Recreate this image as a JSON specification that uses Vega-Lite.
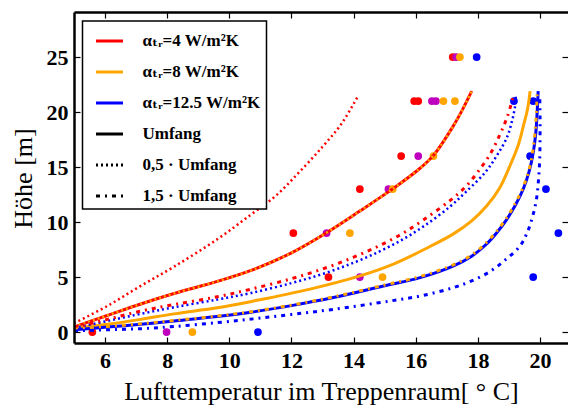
{
  "$schema": "https://vega.github.io/schema/vega-lite/v6.json",
  "width": 494,
  "height": 331,
  "autosize": {"type": "none"},
  "padding": {"left": 74, "top": 12, "right": 0, "bottom": 65},
  "background": "white",
  "config": {
    "view": {"stroke": null},
    "font": "'Liberation Serif', 'Times New Roman', Times, 'DejaVu Serif', serif",
    "legend": {"strokeWidth": 1.5}
  },
  "datasets": {
    "meas": [
      {"g":"r","T":5.59,"h":0},{"g":"m","T":7.98,"h":0},{"g":"o","T":8.81,"h":0},{"g":"b","T":10.92,"h":0},
      {"g":"r","T":13.19,"h":5},{"g":"m","T":14.2,"h":5},{"g":"o","T":14.93,"h":5},{"g":"b","T":19.78,"h":5},
      {"g":"r","T":12.06,"h":9},{"g":"m","T":13.13,"h":9},{"g":"o","T":13.88,"h":9},{"g":"b","T":20.59,"h":9},
      {"g":"r","T":14.2,"h":13},{"g":"m","T":15.12,"h":13},{"g":"o","T":15.26,"h":13},{"g":"b","T":20.19,"h":13},
      {"g":"r","T":15.53,"h":16},{"g":"m","T":16.08,"h":16},{"g":"o","T":16.57,"h":16},{"g":"b","T":19.68,"h":16},
      {"g":"r","T":15.95,"h":21},{"g":"r","T":16.08,"h":21},{"g":"m","T":16.52,"h":21},{"g":"m","T":16.65,"h":21},{"g":"o","T":16.89,"h":21},{"g":"o","T":17.26,"h":21},{"g":"b","T":19.16,"h":21},{"g":"b","T":19.78,"h":21},
      {"g":"r","T":17.19,"h":25},{"g":"m","T":17.3,"h":25},{"g":"o","T":17.42,"h":25},{"g":"b","T":17.96,"h":25}
    ],
    "curves": [
      {"s":"r05","a":"4","f":"0.5","T":5.0,"h":0.8},{"s":"r05","a":"4","f":"0.5","T":6.07,"h":2.36},{"s":"r05","a":"4","f":"0.5","T":7.15,"h":4.2},{"s":"r05","a":"4","f":"0.5","T":8.22,"h":5.94},{"s":"r05","a":"4","f":"0.5","T":9.61,"h":8.43},{"s":"r05","a":"4","f":"0.5","T":10.66,"h":10.6},{"s":"r05","a":"4","f":"0.5","T":11.5,"h":12.4},{"s":"r05","a":"4","f":"0.5","T":12.27,"h":14.6},{"s":"r05","a":"4","f":"0.5","T":13.0,"h":16.85},{"s":"r05","a":"4","f":"0.5","T":13.6,"h":18.9},{"s":"r05","a":"4","f":"0.5","T":14.15,"h":21.5},

      {"s":"r1","a":"4","f":"1","T":5.0,"h":0.45},{"s":"r1","a":"4","f":"1","T":6.07,"h":1.5},{"s":"r1","a":"4","f":"1","T":7.15,"h":2.55},{"s":"r1","a":"4","f":"1","T":8.22,"h":3.5},{"s":"r1","a":"4","f":"1","T":9.61,"h":4.6},{"s":"r1","a":"4","f":"1","T":10.7,"h":5.6},{"s":"r1","a":"4","f":"1","T":12.0,"h":7.2},{"s":"r1","a":"4","f":"1","T":13.13,"h":9.03},{"s":"r1","a":"4","f":"1","T":14.2,"h":11.0},{"s":"r1","a":"4","f":"1","T":15.28,"h":13.06},{"s":"r1","a":"4","f":"1","T":16.1,"h":14.8},{"s":"r1","a":"4","f":"1","T":16.57,"h":16.06},{"s":"r1","a":"4","f":"1","T":17.2,"h":18.7},{"s":"r1","a":"4","f":"1","T":17.5,"h":20.2},{"s":"r1","a":"4","f":"1","T":17.8,"h":21.9},

      {"s":"o05","a":"8","f":"0.5","T":5.0,"h":0.45},{"s":"o05","a":"8","f":"0.5","T":6.07,"h":1.5},{"s":"o05","a":"8","f":"0.5","T":7.15,"h":2.55},{"s":"o05","a":"8","f":"0.5","T":8.22,"h":3.5},{"s":"o05","a":"8","f":"0.5","T":9.61,"h":4.6},{"s":"o05","a":"8","f":"0.5","T":10.7,"h":5.6},{"s":"o05","a":"8","f":"0.5","T":12.0,"h":7.2},{"s":"o05","a":"8","f":"0.5","T":13.13,"h":9.03},{"s":"o05","a":"8","f":"0.5","T":14.2,"h":11.0},{"s":"o05","a":"8","f":"0.5","T":15.28,"h":13.06},{"s":"o05","a":"8","f":"0.5","T":16.1,"h":14.8},{"s":"o05","a":"8","f":"0.5","T":16.57,"h":16.06},{"s":"o05","a":"8","f":"0.5","T":17.2,"h":18.7},{"s":"o05","a":"8","f":"0.5","T":17.5,"h":20.2},{"s":"o05","a":"8","f":"0.5","T":17.8,"h":21.9},

      {"s":"r15","a":"4","f":"1.5","T":5.0,"h":0.4},{"s":"r15","a":"4","f":"1.5","T":6.07,"h":1.15},{"s":"r15","a":"4","f":"1.5","T":7.15,"h":1.9},{"s":"r15","a":"4","f":"1.5","T":8.22,"h":2.5},{"s":"r15","a":"4","f":"1.5","T":9.61,"h":3.2},{"s":"r15","a":"4","f":"1.5","T":10.7,"h":3.9},{"s":"r15","a":"4","f":"1.5","T":12.0,"h":4.85},{"s":"r15","a":"4","f":"1.5","T":13.03,"h":5.76},{"s":"r15","a":"4","f":"1.5","T":14.0,"h":6.8},{"s":"r15","a":"4","f":"1.5","T":14.85,"h":7.88},{"s":"r15","a":"4","f":"1.5","T":15.6,"h":9.0},{"s":"r15","a":"4","f":"1.5","T":16.3,"h":10.3},{"s":"r15","a":"4","f":"1.5","T":17.1,"h":11.95},{"s":"r15","a":"4","f":"1.5","T":17.6,"h":13.2},{"s":"r15","a":"4","f":"1.5","T":18.01,"h":14.6},{"s":"r15","a":"4","f":"1.5","T":18.4,"h":16.2},{"s":"r15","a":"4","f":"1.5","T":18.71,"h":17.97},{"s":"r15","a":"4","f":"1.5","T":18.95,"h":19.6},{"s":"r15","a":"4","f":"1.5","T":19.14,"h":21.45},

      {"s":"b05","a":"12.5","f":"0.5","T":5.0,"h":0.35},{"s":"b05","a":"12.5","f":"0.5","T":6.07,"h":1.0},{"s":"b05","a":"12.5","f":"0.5","T":7.15,"h":1.65},{"s":"b05","a":"12.5","f":"0.5","T":8.22,"h":2.25},{"s":"b05","a":"12.5","f":"0.5","T":9.61,"h":2.95},{"s":"b05","a":"12.5","f":"0.5","T":10.7,"h":3.55},{"s":"b05","a":"12.5","f":"0.5","T":12.0,"h":4.45},{"s":"b05","a":"12.5","f":"0.5","T":13.03,"h":5.3},{"s":"b05","a":"12.5","f":"0.5","T":14.0,"h":6.3},{"s":"b05","a":"12.5","f":"0.5","T":14.85,"h":7.35},{"s":"b05","a":"12.5","f":"0.5","T":15.6,"h":8.45},{"s":"b05","a":"12.5","f":"0.5","T":16.3,"h":9.7},{"s":"b05","a":"12.5","f":"0.5","T":17.1,"h":11.4},{"s":"b05","a":"12.5","f":"0.5","T":17.6,"h":12.7},{"s":"b05","a":"12.5","f":"0.5","T":18.23,"h":14.5},{"s":"b05","a":"12.5","f":"0.5","T":18.6,"h":16.0},{"s":"b05","a":"12.5","f":"0.5","T":18.93,"h":17.67},{"s":"b05","a":"12.5","f":"0.5","T":19.1,"h":19.2},{"s":"b05","a":"12.5","f":"0.5","T":19.2,"h":20.6},{"s":"b05","a":"12.5","f":"0.5","T":19.22,"h":21.4},

      {"s":"o1","a":"8","f":"1","T":5.0,"h":0.35},{"s":"o1","a":"8","f":"1","T":6.07,"h":0.7},{"s":"o1","a":"8","f":"1","T":7.15,"h":1.15},{"s":"o1","a":"8","f":"1","T":8.22,"h":1.65},{"s":"o1","a":"8","f":"1","T":9.61,"h":2.2},{"s":"o1","a":"8","f":"1","T":10.75,"h":2.8},{"s":"o1","a":"8","f":"1","T":12.6,"h":3.9},{"s":"o1","a":"8","f":"1","T":14.2,"h":5.1},{"s":"o1","a":"8","f":"1","T":15.3,"h":6.2},{"s":"o1","a":"8","f":"1","T":16.3,"h":7.55},{"s":"o1","a":"8","f":"1","T":17.2,"h":8.9},{"s":"o1","a":"8","f":"1","T":17.8,"h":10.1},{"s":"o1","a":"8","f":"1","T":18.28,"h":11.45},{"s":"o1","a":"8","f":"1","T":18.7,"h":13.1},{"s":"o1","a":"8","f":"1","T":19.03,"h":15.1},{"s":"o1","a":"8","f":"1","T":19.3,"h":17.0},{"s":"o1","a":"8","f":"1","T":19.46,"h":18.7},{"s":"o1","a":"8","f":"1","T":19.6,"h":20.3},{"s":"o1","a":"8","f":"1","T":19.68,"h":21.9},

      {"s":"b1","a":"12.5","f":"1","T":5.0,"h":0.2},{"s":"b1","a":"12.5","f":"1","T":6.07,"h":0.45},{"s":"b1","a":"12.5","f":"1","T":7.15,"h":0.7},{"s":"b1","a":"12.5","f":"1","T":8.22,"h":1.0},{"s":"b1","a":"12.5","f":"1","T":9.61,"h":1.4},{"s":"b1","a":"12.5","f":"1","T":10.7,"h":1.8},{"s":"b1","a":"12.5","f":"1","T":12.0,"h":2.4},{"s":"b1","a":"12.5","f":"1","T":13.35,"h":3.13},{"s":"b1","a":"12.5","f":"1","T":14.96,"h":4.18},{"s":"b1","a":"12.5","f":"1","T":16.14,"h":4.95},{"s":"b1","a":"12.5","f":"1","T":17.2,"h":6.0},{"s":"b1","a":"12.5","f":"1","T":17.8,"h":6.9},{"s":"b1","a":"12.5","f":"1","T":18.28,"h":8.0},{"s":"b1","a":"12.5","f":"1","T":18.6,"h":9.0},{"s":"b1","a":"12.5","f":"1","T":18.93,"h":10.25},{"s":"b1","a":"12.5","f":"1","T":19.2,"h":11.5},{"s":"b1","a":"12.5","f":"1","T":19.46,"h":13.0},{"s":"b1","a":"12.5","f":"1","T":19.65,"h":14.6},{"s":"b1","a":"12.5","f":"1","T":19.78,"h":16.3},{"s":"b1","a":"12.5","f":"1","T":19.86,"h":18.0},{"s":"b1","a":"12.5","f":"1","T":19.9,"h":19.6},{"s":"b1","a":"12.5","f":"1","T":19.94,"h":21.9},

      {"s":"o15","a":"8","f":"1.5","T":5.0,"h":0.25},{"s":"o15","a":"8","f":"1.5","T":6.07,"h":0.5},{"s":"o15","a":"8","f":"1.5","T":7.15,"h":0.75},{"s":"o15","a":"8","f":"1.5","T":8.22,"h":1.05},{"s":"o15","a":"8","f":"1.5","T":9.61,"h":1.45},{"s":"o15","a":"8","f":"1.5","T":10.7,"h":1.85},{"s":"o15","a":"8","f":"1.5","T":12.0,"h":2.45},{"s":"o15","a":"8","f":"1.5","T":13.35,"h":3.2},{"s":"o15","a":"8","f":"1.5","T":14.96,"h":4.25},{"s":"o15","a":"8","f":"1.5","T":16.14,"h":5.05},{"s":"o15","a":"8","f":"1.5","T":17.2,"h":6.1},{"s":"o15","a":"8","f":"1.5","T":17.8,"h":7.0},{"s":"o15","a":"8","f":"1.5","T":18.28,"h":8.15},{"s":"o15","a":"8","f":"1.5","T":18.6,"h":9.15},{"s":"o15","a":"8","f":"1.5","T":18.93,"h":10.4},{"s":"o15","a":"8","f":"1.5","T":19.2,"h":11.7},{"s":"o15","a":"8","f":"1.5","T":19.46,"h":13.2},{"s":"o15","a":"8","f":"1.5","T":19.65,"h":14.8},{"s":"o15","a":"8","f":"1.5","T":19.77,"h":16.5},{"s":"o15","a":"8","f":"1.5","T":19.84,"h":18.2},{"s":"o15","a":"8","f":"1.5","T":19.88,"h":19.8},{"s":"o15","a":"8","f":"1.5","T":19.91,"h":21.9},

      {"s":"b15","a":"12.5","f":"1.5","T":5.0,"h":0.1},{"s":"b15","a":"12.5","f":"1.5","T":6.07,"h":0.2},{"s":"b15","a":"12.5","f":"1.5","T":7.15,"h":0.3},{"s":"b15","a":"12.5","f":"1.5","T":8.22,"h":0.5},{"s":"b15","a":"12.5","f":"1.5","T":9.61,"h":0.85},{"s":"b15","a":"12.5","f":"1.5","T":10.8,"h":1.2},{"s":"b15","a":"12.5","f":"1.5","T":12.0,"h":1.6},{"s":"b15","a":"12.5","f":"1.5","T":13.35,"h":2.06},{"s":"b15","a":"12.5","f":"1.5","T":15.17,"h":2.82},{"s":"b15","a":"12.5","f":"1.5","T":16.2,"h":3.3},{"s":"b15","a":"12.5","f":"1.5","T":17.2,"h":4.03},{"s":"b15","a":"12.5","f":"1.5","T":17.8,"h":4.65},{"s":"b15","a":"12.5","f":"1.5","T":18.39,"h":5.5},{"s":"b15","a":"12.5","f":"1.5","T":18.9,"h":6.6},{"s":"b15","a":"12.5","f":"1.5","T":19.35,"h":7.8},{"s":"b15","a":"12.5","f":"1.5","T":19.58,"h":9.0},{"s":"b15","a":"12.5","f":"1.5","T":19.75,"h":10.4},{"s":"b15","a":"12.5","f":"1.5","T":19.88,"h":12.0},{"s":"b15","a":"12.5","f":"1.5","T":19.95,"h":13.8},{"s":"b15","a":"12.5","f":"1.5","T":19.99,"h":15.8},{"s":"b15","a":"12.5","f":"1.5","T":20.0,"h":17.8},{"s":"b15","a":"12.5","f":"1.5","T":20.0,"h":19.6},{"s":"b15","a":"12.5","f":"1.5","T":19.99,"h":21.45}
    ],
    "leg": [
      {"k":"αₜᵣ=4 W/m²K"},{"k":"αₜᵣ=8 W/m²K"},{"k":"αₜᵣ=12.5 W/m²K"},{"k":"Umfang"},{"k":"0,5 · Umfang"},{"k":"1,5 · Umfang"}
    ]
  },
  "encoding": {
    "x": {"field": "T", "type": "quantitative", "scale": {"domain": [5, 20.9], "nice": false, "zero": false}, "axis": null},
    "y": {"field": "h", "type": "quantitative", "scale": {"domain": [-1, 29.1], "nice": false, "zero": false}, "axis": null}
  },
  "layer": [
    {
      "data": {"name": "meas"},
      "mark": {"type": "point", "shape": "circle", "filled": true, "size": 60, "opacity": 1, "strokeWidth": 0},
      "encoding": {
        "x": {"field": "T", "type": "quantitative", "scale": {"domain": [5, 20.9], "nice": false, "zero": false},
          "axis": {"orient": "top", "values": [6,8,10,12,14,16,18,20], "labels": false, "title": null, "tickSize": -6, "tickWidth": 1.2, "tickColor": "black", "domainColor": "black", "domainWidth": 2.5, "grid": false, "zindex": 1}},
        "y": {"field": "h", "type": "quantitative", "scale": {"domain": [-1, 29.1], "nice": false, "zero": false},
          "axis": {"orient": "right", "values": [0,5,10,15,20,25], "labels": false, "title": null, "tickSize": -6, "tickWidth": 1.2, "tickColor": "black", "domain": false, "grid": false, "zindex": 1}},
        "color": {"field": "g", "type": "nominal", "scale": {"domain": ["r","m","o","b"], "range": ["#ff0000","#bf00bf","#ffa500","#0000ff"]}, "legend": null}
      }
    },
    {
      "data": {"name": "curves"},
      "transform": [{"filter": "datum.f == '1'"}],
      "mark": {"type": "line", "strokeWidth": 3, "clip": true, "interpolate": "catmull-rom"},
      "encoding": {
        "x": {"field": "T", "type": "quantitative", "scale": {"domain": [5, 20.9], "nice": false, "zero": false},
          "axis": {"orient": "bottom", "values": [6,8,10,12,14,16,18,20], "tickSize": -6, "tickWidth": 1.2, "tickColor": "black", "domainColor": "black", "domainWidth": 2.5, "grid": false, "zindex": 1,
            "labelFont": "'Liberation Serif', 'Times New Roman', Times, 'DejaVu Serif', serif", "labelFontSize": 22, "labelFontWeight": "bold", "labelColor": "black", "labelPadding": 13, "labelFlush": false, "labelOverlap": false,
            "title": "Lufttemperatur im Treppenraum[ ° C]", "titleFont": "'Liberation Serif', 'Times New Roman', Times, 'DejaVu Serif', serif", "titleFontSize": 26, "titleFontWeight": "normal", "titleColor": "black", "titleY": 56, "titleBaseline": "alphabetic"}},
        "y": {"field": "h", "type": "quantitative", "scale": {"domain": [-1, 29.1], "nice": false, "zero": false},
          "axis": {"orient": "left", "values": [0,5,10,15,20,25], "tickSize": -6, "tickWidth": 1.2, "tickColor": "black", "domainColor": "black", "domainWidth": 2.5, "grid": false, "zindex": 1,
            "labelFont": "'Liberation Serif', 'Times New Roman', Times, 'DejaVu Serif', serif", "labelFontSize": 22, "labelFontWeight": "bold", "labelColor": "black", "labelPadding": 12, "labelFlush": false, "labelOverlap": false,
            "title": "Höhe [m]", "titleFont": "'Liberation Serif', 'Times New Roman', Times, 'DejaVu Serif', serif", "titleFontSize": 26, "titleFontWeight": "normal", "titleColor": "black", "titleX": -43, "titleY": 166, "titleAngle": -90, "titleAlign": "center", "titleBaseline": "alphabetic"}},
        "color": {"field": "a", "type": "nominal", "scale": {"domain": ["4","8","12.5"], "range": ["#ff0000","#ffa500","#0000ff"]}, "legend": null},
        "detail": {"field": "s"},
        "order": {"field": "h", "type": "quantitative"}
      }
    },
    {
      "data": {"name": "curves"},
      "transform": [{"filter": "datum.f == '0.5'"}],
      "mark": {"type": "line", "strokeWidth": 2.5, "strokeDash": [2, 3], "clip": true, "interpolate": "catmull-rom"},
      "encoding": {
        "color": {"field": "a", "type": "nominal", "scale": {"domain": ["4","8","12.5"], "range": ["#ff0000","#ffa500","#0000ff"]}, "legend": null},
        "detail": {"field": "s"},
        "order": {"field": "h", "type": "quantitative"}
      }
    },
    {
      "data": {"name": "curves"},
      "transform": [{"filter": "datum.f == '1.5'"}],
      "mark": {"type": "line", "strokeWidth": 3, "strokeDash": [4, 5, 2, 5], "clip": true, "interpolate": "catmull-rom"},
      "encoding": {
        "color": {"field": "a", "type": "nominal", "scale": {"domain": ["4","8","12.5"], "range": ["#ff0000","#ffa500","#0000ff"]}, "legend": null},
        "detail": {"field": "s"},
        "order": {"field": "h", "type": "quantitative"}
      }
    },
    {
      "data": {"name": "leg"},
      "mark": {"type": "line", "strokeWidth": 3},
      "encoding": {
        "color": {"field": "k", "type": "nominal",
          "scale": {"domain": ["αₜᵣ=4 W/m²K","αₜᵣ=8 W/m²K","αₜᵣ=12.5 W/m²K","Umfang","0,5 · Umfang","1,5 · Umfang"], "range": ["#ff0000","#ffa500","#0000ff","#000000","#000000","#000000"]},
          "legend": {"orient": "none", "legendX": 8.5, "legendY": 9, "title": null, "strokeColor": "black", "fillColor": "white", "padding": 5, "rowPadding": 8, "symbolType": "stroke", "symbolSize": 729, "symbolStrokeWidth": 3, "symbolOffset": 7, "labelFont": "'Liberation Serif', 'Times New Roman', Times, 'DejaVu Serif', serif", "labelFontSize": 17, "labelFontWeight": "bold", "labelColor": "black", "labelOffset": 18, "labelLimit": 300}},
        "strokeDash": {"field": "k", "type": "nominal",
          "scale": {"domain": ["αₜᵣ=4 W/m²K","αₜᵣ=8 W/m²K","αₜᵣ=12.5 W/m²K","Umfang","0,5 · Umfang","1,5 · Umfang"], "range": [[1,0],[1,0],[1,0],[1,0],[2,3],[4,5,2,5]]},
          "legend": {"orient": "none", "legendX": 8.5, "legendY": 9, "title": null, "strokeColor": "black", "fillColor": "white", "padding": 5, "rowPadding": 8, "symbolType": "stroke", "symbolSize": 729, "symbolStrokeWidth": 3, "symbolOffset": 7, "labelFont": "'Liberation Serif', 'Times New Roman', Times, 'DejaVu Serif', serif", "labelFontSize": 17, "labelFontWeight": "bold", "labelColor": "black", "labelOffset": 18, "labelLimit": 300}}
      }
    }
  ],
  "resolve": {
    "scale": {"color": "independent", "strokeDash": "independent"},
    "axis": {"x": "independent", "y": "independent"}
  }
}
